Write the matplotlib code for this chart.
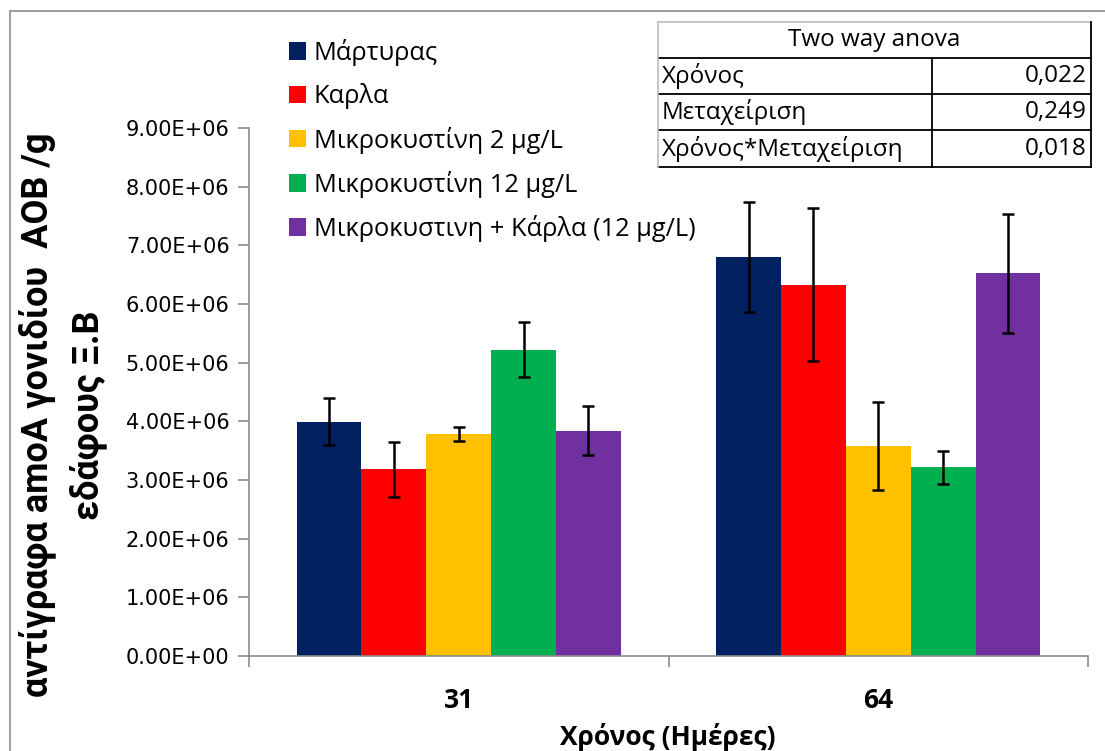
import matplotlib.pyplot as plt
import numpy as np
from matplotlib.patches import Patch, Rectangle
from matplotlib.lines import Line2D
from matplotlib.ticker import FuncFormatter, FixedLocator

# Δεδομένα
days = ["31", "64"]
treatments = ["Μάρτυρας", "Καρλα", "Μικροκυστίνη 2 μg/L", "Μικροκυστίνη 12 μg/L",
              "Μικροκυστινη + Κάρλα (12 μg/L)"]
colors = ["#002060", "#FF0000", "#FFC000", "#00B050", "#7030A0"]
means = [
    [3.99e6, 6.80e6],
    [3.18e6, 6.33e6],
    [3.79e6, 3.58e6],
    [5.22e6, 3.22e6],
    [3.84e6, 6.52e6],
]
errors = [
    [0.40e6, 0.94e6],
    [0.47e6, 1.31e6],
    [0.12e6, 0.75e6],
    [0.47e6, 0.28e6],
    [0.42e6, 1.02e6],
]
anova_title = "Two way anova"
anova_terms = ["Χρόνος", "Μεταχείριση", "Χρόνος*Μεταχείριση"]
anova_p = ["0,022", "0,249", "0,018"]

W, H = 1105, 751
fig = plt.figure(figsize=(W / 100, H / 100), dpi=100)


def fx(px):
    return px / W


def fy(py):
    return 1 - py / H


txt_font = ["Open Sans", "DejaVu Sans"]
lab_font = ["Roboto", "DejaVu Sans"]

# εξωτερικό πλαίσιο
fig.patches.append(Rectangle((fx(10), fy(790)), 1.2, fy(11) - fy(790),
                             transform=fig.transFigure, fill=False,
                             edgecolor="#8c8c8c", lw=1.2))

ax = fig.add_axes([fx(249), fy(656), fx(1088) - fx(249), fy(128) - fy(656)])

x = np.arange(len(days))
n = len(treatments)
bw = 0.773 / n
for i in range(n):
    pos = x + (i - (n - 1) / 2) * bw
    ax.bar(pos, means[i], width=bw, color=colors[i], label=treatments[i])
    ax.errorbar(pos, means[i], yerr=errors[i], fmt="none", ecolor="black",
                elinewidth=1.8, capsize=4.5, capthick=1.8)

ax.set_xlim(-0.5, len(days) - 0.5)
ax.set_ylim(0, 9e6)
ax.set_yticks(np.arange(0, 9.01e6, 1e6))
ax.yaxis.set_major_formatter(FuncFormatter(lambda v, p: f"{v:.2E}"))
for lab in ax.get_yticklabels():
    lab.set_fontfamily("DejaVu Sans")
ax.tick_params(axis="y", labelsize=15, length=8, width=1.2, color="#8c8c8c",
               direction="out", pad=6)

ax.xaxis.set_major_locator(FixedLocator(np.arange(-0.5, len(days), 1.0)))
ax.xaxis.set_minor_locator(FixedLocator(x))
ax.set_xticklabels([])
ax.set_xticklabels(days, minor=True, fontweight="bold", family=txt_font)
ax.tick_params(axis="x", which="major", length=8, width=1.2, color="#8c8c8c")
ax.tick_params(axis="x", which="minor", length=0, labelsize=19, pad=22)

for s in ["top", "right"]:
    ax.spines[s].set_visible(False)
for s in ["left", "bottom"]:
    ax.spines[s].set_color("#8c8c8c")
    ax.spines[s].set_linewidth(1.2)

fig.text(fx(668), fy(737), "Χρόνος (Ημέρες)", ha="center", va="center",
         fontsize=19, fontweight="bold", family=txt_font)
ax.set_ylabel("αντίγραφα amoA γονιδίου  AOB /g\nεδάφους Ξ.Β", fontsize=26,
              fontweight="bold", family=lab_font, linespacing=1.45)
ax.yaxis.set_label_coords(-0.169, 0.456)

handles = [Patch(facecolor=c, edgecolor="none") for c in colors]
ax.legend(handles, treatments, loc="upper left",
          bbox_to_anchor=(fx(289), fy(39)), bbox_transform=fig.transFigure,
          frameon=False, prop={"family": txt_font, "size": 18.3},
          handlelength=0.68, handleheight=0.68, handletextpad=0.3,
          labelspacing=0.68, borderaxespad=0, borderpad=0)

# πίνακας ANOVA
tl, tr, tc = 658, 1091, 932
rows = [22, 58, 94, 130, 167]


def hline(y0, x0, x1, c):
    fig.add_artist(Line2D([fx(x0), fx(x1)], [fy(y0), fy(y0)], color=c, lw=1.3,
                          transform=fig.transFigure))


def vline(x0, y0, y1, c):
    fig.add_artist(Line2D([fx(x0), fx(x0)], [fy(y0), fy(y1)], color=c, lw=1.3,
                          transform=fig.transFigure))


hline(rows[0], tl, tr, "#c0c0c0")
for r in rows[1:]:
    hline(r, tl, tr, "black")
vline(tl, rows[0], rows[-1], "#c0c0c0")
vline(tr, rows[0], rows[-1], "black")
vline(tc, rows[1], rows[-1], "black")

fig.text(fx((tl + tr) / 2), fy((rows[0] + rows[1]) / 2), anova_title,
         ha="center", va="center", fontsize=17.5, family=txt_font)
for k, (term, p) in enumerate(zip(anova_terms, anova_p)):
    yc = fy((rows[k + 1] + rows[k + 2]) / 2)
    fig.text(fx(tl + 4), yc, term, ha="left", va="center", fontsize=17.5,
             family=txt_font)
    fig.text(fx(tr - 4), yc, p, ha="right", va="center", fontsize=17.5,
             family=txt_font)

plt.savefig("out.png", dpi=100)
plt.close()
